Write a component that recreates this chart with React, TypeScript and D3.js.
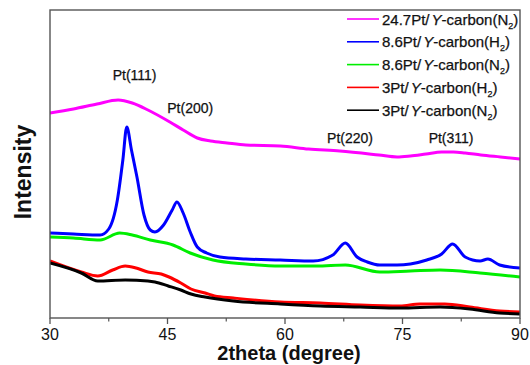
import React from "react";
import * as d3 from "d3";

// ---- data (2theta in degrees, intensity in arbitrary units) ----
const magentaX = [30, 33, 36, 38.7, 40.5, 42.5, 45.3, 47, 48.8, 50.5, 52.6, 55, 59.4, 63, 67, 72, 74.3, 76, 78, 80, 81.5, 83, 85, 87.5, 90];
const magentaY = [205, 209, 214, 218, 215, 208, 196, 188, 180, 177, 175, 173, 172, 169, 167, 163, 161, 162, 164, 166, 166, 165, 163, 161, 159];

const blueX = [30, 33, 36.4, 37.5, 38.6, 39.3, 39.8, 40.4, 41.1, 42, 42.8, 43.4, 44.5, 45.6, 46.2, 47, 47.9, 48.8, 50, 51.7, 55, 59.4, 63.6, 66.1, 67.7, 69.2, 70.5, 72.1, 74.3, 76, 78.1, 80, 81.4, 83, 84.9, 85.9, 87.4, 90];
const blueY = [85, 84, 83, 89, 118, 158, 191, 168, 141, 103, 88, 86, 93, 108, 116, 105, 86, 71, 65, 61, 59, 58, 57, 63, 75, 61, 56, 53, 53, 54, 58, 64, 74, 61, 57, 59, 53, 50];

const greenX = [30, 33, 36.4, 38.9, 40.5, 42.8, 45.7, 47.9, 50.8, 55, 59.4, 64, 67.7, 72.1, 76, 79.8, 84.9, 90];
const greenY = [81, 80, 78, 85, 83, 78, 73, 65, 58, 54, 52, 52, 53, 46, 47, 48, 45, 41];

const redX = [30, 34, 36.1, 38, 39.6, 41, 42.5, 44.2, 45.2, 46.7, 48, 49.8, 51, 53.4, 59.4, 64.5, 69.6, 74.7, 77.2, 80.4, 83.6, 87.4, 90];
const redY = [57, 46, 42, 48, 52, 50, 46, 44, 41, 35, 29, 25, 22, 20, 16, 15, 13, 12, 14, 14, 11, 7, 6];

const blackX = [30, 34, 36.1, 39.6, 42.5, 43.4, 45.1, 46.7, 48, 49.8, 53.4, 59.4, 64.5, 69.6, 74.7, 79.8, 83.6, 87.4, 90];
const blackY = [55, 45, 37, 38, 37, 36, 32, 28, 24, 21, 17, 14, 12, 11, 10, 11, 9, 5, 4];

const seriesNames = ["24.7Pt/", "8.6Pt/", "8.6Pt/", "3Pt/", "3Pt/"];
const seriesGas = ["N", "H", "N", "H", "N"];
const seriesColors = ["#ff00ff", "#0000ff", "#00ee00", "#ff0000", "#000000"];

const xTicks = [30, 45, 60, 75, 90];
const xMinorTicks = [37.5, 52.5, 67.5, 82.5];

const peakLabels = ["Pt(111)", "Pt(200)", "Pt(220)", "Pt(311)"];
const peakX = [40.8, 47.9, 68.3, 81.2];
const peakY = [238, 205, 175, 175];

export default function App() {
  const W = 530, H = 365;
  const left = 50, right = 520, top = 10, bottom = 318;
  const x = d3.scaleLinear().domain([30, 90]).range([left, right]);
  const y = d3.scaleLinear().domain([0, 308]).range([bottom, top]);
  const line = d3
    .line<[number, number]>()
    .x((d) => x(d[0]))
    .y((d) => y(d[1]))
    .curve(d3.curveMonotoneX);

  const series = [
    [magentaX, magentaY],
    [blueX, blueY],
    [greenX, greenY],
    [redX, redY],
    [blackX, blackY],
  ];
  const drawOrder = [0, 2, 1, 3, 4];
  const axisColor = "#555";
  const font = "'Liberation Sans', Arial, sans-serif";

  return (
    <svg width={W} height={H} style={{ position: "absolute", left: 0, top: 0, background: "#fff" }}>
      <defs>
        <clipPath id="plotclip">
          <rect x={left} y={top} width={right - left} height={bottom - top} />
        </clipPath>
      </defs>
      <g clipPath="url(#plotclip)">
        {drawOrder.map((i) => {
          const [xs, ys] = series[i];
          const pts = xs.map((v, k) => [v, ys[k]] as [number, number]);
          return (
            <path
              key={i}
              d={line(pts) || ""}
              fill="none"
              stroke={seriesColors[i]}
              strokeWidth={3}
              strokeLinejoin="round"
            />
          );
        })}
      </g>
      <rect x={left} y={top} width={right - left} height={bottom - top} fill="none" stroke={axisColor} strokeWidth={1.4} />
      {xTicks.map((t) => (
        <g key={t}>
          <line x1={x(t)} x2={x(t)} y1={bottom} y2={bottom + 6} stroke={axisColor} strokeWidth={1.3} />
          <text x={x(t)} y={340} textAnchor="middle" fontFamily={font} fontSize={16} fill="#111">
            {t}
          </text>
        </g>
      ))}
      {xMinorTicks.map((t) => (
        <line key={t} x1={x(t)} x2={x(t)} y1={bottom} y2={bottom + 3.5} stroke={axisColor} strokeWidth={1.2} />
      ))}
      <text x={289} y={360} textAnchor="middle" fontFamily={font} fontSize={20} fontWeight="bold" fill="#111">
        2theta (degree)
      </text>
      <text
        transform={`translate(31,172) rotate(-90)`}
        textAnchor="middle"
        fontFamily={font}
        fontSize={23}
        fontWeight="bold"
        fill="#111"
      >
        Intensity
      </text>
      {peakLabels.map((s, i) => (
        <text key={s} x={x(peakX[i])} y={y(peakY[i])} textAnchor="middle" fontFamily={font} fontSize={14}
          fill="#111" stroke="#111" strokeWidth={0.25}>
          {s}
        </text>
      ))}
      {seriesNames.map((n, i) => {
        const ly = 19 + i * 22.8;
        return (
          <g key={i}>
            <line x1={347} x2={379} y1={ly} y2={ly} stroke={seriesColors[i]} strokeWidth={1.6} />
            <text x={382} y={ly + 5.5} fontFamily={font} fontSize={15} fill="#111" stroke="#111" strokeWidth={0.25}>
              {n}
              <tspan fontStyle="italic" dx={2}>Y</tspan>
              {"-carbon(" + seriesGas[i]}
              <tspan fontSize={9} dy={4}>2</tspan>
              <tspan dy={-4}>)</tspan>
            </text>
          </g>
        );
      })}
    </svg>
  );
}
